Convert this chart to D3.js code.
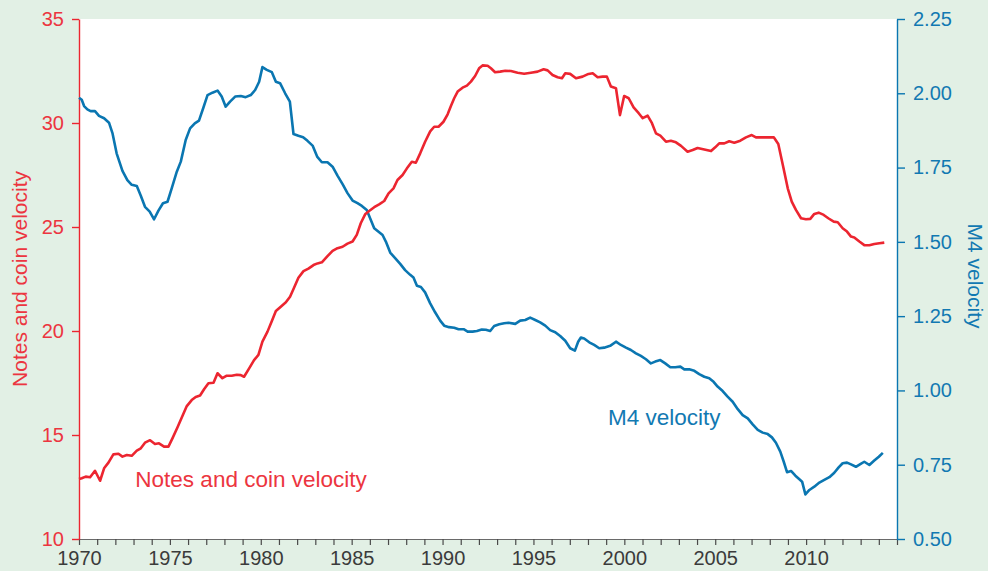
<!DOCTYPE html>
<html>
<head>
<meta charset="utf-8">
<script src="https://cdn.jsdelivr.net/npm/d3@7"></script>
<style>
  html, body { margin: 0; padding: 0; background: #e2f0e5; }
  svg { display: block; font-family: "Liberation Sans", Arial, sans-serif; }
</style>
</head>
<body>
<svg id="chart" width="988" height="571"></svg>
<script>
// Notes and coin velocity (left axis), quarterly, 1970–2014
const notesYears = [1970.00,1970.15,1970.37,1970.61,1970.88,1971.16,1971.38,1971.62,1971.89,1972.17,1972.39,1972.63,1972.90,1973.18,1973.40,1973.63,1973.91,1974.18,1974.40,1974.68,1974.92,1975.14,1975.42,1975.69,1975.93,1976.20,1976.42,1976.66,1976.88,1977.12,1977.40,1977.62,1977.89,1978.13,1978.40,1978.68,1978.90,1979.08,1979.36,1979.63,1979.87,1980.09,1980.37,1980.61,1980.83,1981.10,1981.38,1981.61,1981.83,1982.07,1982.35,1982.62,1982.90,1983.12,1983.36,1983.67,1983.95,1984.22,1984.50,1984.77,1985.05,1985.28,1985.50,1985.74,1985.96,1986.24,1986.51,1986.79,1987.03,1987.30,1987.52,1987.80,1988.04,1988.31,1988.53,1988.77,1989.04,1989.32,1989.54,1989.78,1990.05,1990.28,1990.46,1990.64,1990.83,1991.10,1991.34,1991.56,1991.79,1992.01,1992.20,1992.48,1992.66,1992.89,1993.17,1993.45,1993.76,1994.13,1994.49,1994.86,1995.23,1995.56,1995.78,1996.05,1996.33,1996.57,1996.75,1997.02,1997.34,1997.70,1998.03,1998.26,1998.53,1998.81,1999.04,1999.26,1999.54,1999.76,1999.99,2000.24,2000.51,2000.79,2001.01,2001.28,2001.52,2001.74,2001.98,2002.29,2002.56,2002.84,2003.12,2003.48,2003.76,2004.03,2004.40,2004.77,2005.00,2005.22,2005.50,2005.77,2006.05,2006.38,2006.69,2007.01,2007.24,2007.61,2007.97,2008.22,2008.47,2008.74,2008.99,2009.21,2009.44,2009.72,2009.99,2010.23,2010.45,2010.69,2010.97,2011.22,2011.52,2011.74,2012.01,2012.25,2012.47,2012.65,2012.93,2013.20,2013.48,2013.75,2014.03,2014.30];
const notesValues = [12.88,12.92,13.00,12.97,13.28,12.80,13.40,13.67,14.07,14.10,13.96,14.04,14.00,14.25,14.36,14.63,14.75,14.57,14.60,14.44,14.44,14.84,15.37,15.91,16.39,16.68,16.83,16.90,17.20,17.49,17.51,17.97,17.73,17.85,17.85,17.90,17.88,17.80,18.20,18.60,18.85,19.49,19.97,20.48,20.96,21.17,21.38,21.65,22.08,22.56,22.88,23.00,23.17,23.25,23.30,23.60,23.85,23.98,24.05,24.20,24.30,24.62,25.18,25.61,25.77,25.95,26.09,26.25,26.62,26.86,27.26,27.50,27.82,28.14,28.09,28.54,29.10,29.60,29.82,29.82,30.06,30.42,30.82,31.19,31.51,31.70,31.80,31.99,32.26,32.63,32.77,32.75,32.63,32.44,32.47,32.51,32.50,32.42,32.37,32.42,32.47,32.58,32.53,32.31,32.20,32.15,32.39,32.36,32.15,32.23,32.36,32.39,32.20,32.23,32.23,31.75,31.67,30.38,31.30,31.19,30.75,30.47,30.23,30.35,29.99,29.50,29.39,29.10,29.15,29.07,28.90,28.62,28.70,28.80,28.73,28.65,28.83,29.02,29.02,29.12,29.05,29.15,29.31,29.42,29.31,29.31,29.31,29.31,28.99,27.90,26.86,26.22,25.82,25.42,25.37,25.39,25.63,25.69,25.58,25.42,25.26,25.23,24.94,24.78,24.54,24.50,24.30,24.13,24.12,24.18,24.22,24.25];

// M4 velocity (right axis), quarterly, 1970–2014
const m4Years = [1970.00,1970.15,1970.28,1970.46,1970.64,1970.88,1971.10,1971.38,1971.65,1971.84,1972.07,1972.39,1972.66,1972.90,1973.18,1973.40,1973.63,1973.89,1974.13,1974.37,1974.62,1974.87,1975.10,1975.38,1975.60,1975.87,1976.11,1976.37,1976.60,1976.85,1977.07,1977.34,1977.62,1977.85,1978.07,1978.31,1978.59,1978.90,1979.17,1979.45,1979.69,1979.91,1980.09,1980.33,1980.61,1980.83,1981.06,1981.34,1981.60,1981.80,1982.07,1982.33,1982.57,1982.85,1983.10,1983.36,1983.67,1983.95,1984.22,1984.50,1984.77,1985.05,1985.32,1985.56,1985.83,1986.02,1986.24,1986.48,1986.70,1986.88,1987.12,1987.39,1987.67,1987.94,1988.22,1988.40,1988.59,1988.81,1989.04,1989.32,1989.59,1989.87,1990.09,1990.36,1990.64,1990.88,1991.16,1991.38,1991.65,1991.89,1992.16,1992.38,1992.62,1992.84,1993.12,1993.39,1993.63,1994.00,1994.27,1994.55,1994.82,1995.10,1995.37,1995.65,1995.92,1996.20,1996.47,1996.75,1997.02,1997.28,1997.46,1997.61,1997.79,1998.07,1998.34,1998.62,1998.89,1999.22,1999.54,1999.81,2000.09,2000.36,2000.64,2000.91,2001.19,2001.46,2001.70,2001.98,2002.25,2002.53,2002.80,2003.08,2003.30,2003.57,2003.85,2004.12,2004.40,2004.67,2004.91,2005.13,2005.41,2005.68,2005.96,2006.24,2006.51,2006.79,2007.06,2007.34,2007.61,2007.89,2008.12,2008.34,2008.58,2008.77,2008.95,2009.17,2009.41,2009.63,2009.78,2009.96,2010.18,2010.45,2010.73,2011.00,2011.28,2011.55,2011.79,2012.01,2012.25,2012.47,2012.74,2012.98,2013.20,2013.48,2013.75,2014.00,2014.22];
const m4Values = [1.985,1.978,1.957,1.946,1.940,1.940,1.924,1.916,1.901,1.866,1.798,1.739,1.708,1.692,1.688,1.655,1.618,1.602,1.576,1.605,1.630,1.635,1.680,1.736,1.770,1.843,1.882,1.899,1.908,1.953,1.994,2.002,2.009,1.989,1.955,1.972,1.989,1.991,1.987,1.994,2.011,2.039,2.088,2.079,2.071,2.039,2.034,2.000,1.972,1.863,1.857,1.852,1.840,1.824,1.787,1.768,1.768,1.753,1.723,1.694,1.664,1.639,1.630,1.621,1.607,1.579,1.546,1.534,1.523,1.501,1.464,1.445,1.426,1.405,1.389,1.380,1.352,1.348,1.330,1.293,1.263,1.235,1.218,1.213,1.211,1.206,1.206,1.198,1.198,1.200,1.205,1.204,1.200,1.217,1.223,1.226,1.228,1.224,1.235,1.237,1.245,1.237,1.229,1.218,1.203,1.196,1.183,1.167,1.142,1.134,1.164,1.178,1.175,1.162,1.153,1.142,1.144,1.150,1.164,1.153,1.144,1.136,1.125,1.116,1.105,1.091,1.097,1.102,1.091,1.078,1.078,1.080,1.071,1.071,1.066,1.055,1.046,1.041,1.029,1.013,0.998,0.979,0.962,0.937,0.917,0.906,0.886,0.867,0.858,0.853,0.842,0.824,0.794,0.760,0.725,0.729,0.713,0.701,0.693,0.650,0.665,0.676,0.690,0.699,0.708,0.723,0.741,0.755,0.757,0.751,0.743,0.752,0.760,0.749,0.764,0.777,0.790];

// Axis ticks and labels
const yearTicks = d3.range(1970, 2016, 1);
const yearLabels = [1970, 1975, 1980, 1985, 1990, 1995, 2000, 2005, 2010];
const leftTicks = [10, 15, 20, 25, 30, 35];
const rightTicks = [0.50, 0.75, 1.00, 1.25, 1.50, 1.75, 2.00, 2.25];

const RED = "#ec2530";
const RED_TEXT = "#ec3540";
const BLUE = "#0a76b1";
const BLUE_TEXT = "#1279b2";
const GREY_TEXT = "#3b3b3b";

const margin = { left: 79, right: 91, top: 19, bottom: 32 };
const W = 988, H = 571;
const svg = d3.select("#chart");

const x = d3.scaleLinear().domain([1970, 2015]).range([margin.left, W - margin.right]);
const yL = d3.scaleLinear().domain([10, 35]).range([H - margin.bottom, margin.top]);
const yR = d3.scaleLinear().domain([0.5, 2.25]).range([H - margin.bottom, margin.top]);

// white plotting panel
svg.append("rect")
  .attr("x", x(1970)).attr("y", yL(35))
  .attr("width", x(2015) - x(1970)).attr("height", yL(10) - yL(35))
  .attr("fill", "#ffffff");

// bottom axis
const xAxis = svg.append("g")
  .attr("transform", `translate(0,${yL(10)})`)
  .call(d3.axisBottom(x).tickValues(yearTicks).tickSize(6).tickSizeOuter(0)
    .tickFormat(d => yearLabels.includes(d) ? String(d) : ""));
xAxis.select(".domain").attr("stroke", "#6a6a6a").attr("stroke-width", 1.2);
xAxis.selectAll(".tick line").attr("stroke", "#4a4a4a").attr("stroke-width", 1.2);
xAxis.selectAll(".tick text")
  .attr("fill", GREY_TEXT).attr("font-size", 20).attr("dy", "0.68em").attr("y", 12);

// left axis
const lAxis = svg.append("g")
  .attr("transform", `translate(${x(1970)},0)`)
  .call(d3.axisLeft(yL).tickValues(leftTicks).tickSize(7).tickSizeOuter(0).tickFormat(d3.format("d")));
lAxis.select(".domain").attr("stroke", RED).attr("stroke-width", 1.4);
lAxis.selectAll(".tick line").attr("stroke", RED).attr("stroke-width", 1.4);
lAxis.selectAll(".tick text")
  .attr("fill", RED_TEXT).attr("font-size", 20).attr("x", -15);

// right axis
const rAxis = svg.append("g")
  .attr("transform", `translate(${x(2015)},0)`)
  .call(d3.axisRight(yR).tickValues(rightTicks).tickSize(8).tickSizeOuter(0).tickFormat(d3.format(".2f")));
rAxis.select(".domain").attr("stroke", BLUE).attr("stroke-width", 1.4);
rAxis.selectAll(".tick line").attr("stroke", BLUE).attr("stroke-width", 1.4);
rAxis.selectAll(".tick text")
  .attr("fill", BLUE_TEXT).attr("font-size", 20).attr("x", 16);

// axis titles
svg.append("text")
  .attr("transform", `translate(27,${(yL(35) + yL(10)) / 2}) rotate(-90)`)
  .attr("text-anchor", "middle")
  .attr("fill", RED_TEXT).attr("font-size", 21)
  .text("Notes and coin velocity");

svg.append("text")
  .attr("transform", `translate(968,${(yL(35) + yL(10)) / 2 - 3}) rotate(90)`)
  .attr("text-anchor", "middle")
  .attr("fill", BLUE_TEXT).attr("font-size", 21)
  .text("M4 velocity");

// series lines
const lineL = d3.line().x(d => x(d[0])).y(d => yL(d[1]));
const lineR = d3.line().x(d => x(d[0])).y(d => yR(d[1]));

svg.append("path")
  .datum(m4Years.map((t, i) => [t, m4Values[i]]))
  .attr("d", lineR)
  .attr("fill", "none").attr("stroke", BLUE).attr("stroke-width", 2.6)
  .attr("stroke-linejoin", "round");

svg.append("path")
  .datum(notesYears.map((t, i) => [t, notesValues[i]]))
  .attr("d", lineL)
  .attr("fill", "none").attr("stroke", RED).attr("stroke-width", 2.6)
  .attr("stroke-linejoin", "round");

// in-chart series labels
svg.append("text")
  .attr("x", x(1973.1)).attr("y", yL(12.9))
  .attr("dy", "0.35em")
  .attr("fill", RED_TEXT).attr("font-size", 22.5)
  .text("Notes and coin velocity");

svg.append("text")
  .attr("x", x(1999.1)).attr("y", yR(0.91))
  .attr("dy", "0.35em")
  .attr("fill", BLUE_TEXT).attr("font-size", 22.5)
  .text("M4 velocity");
</script>
</body>
</html>
